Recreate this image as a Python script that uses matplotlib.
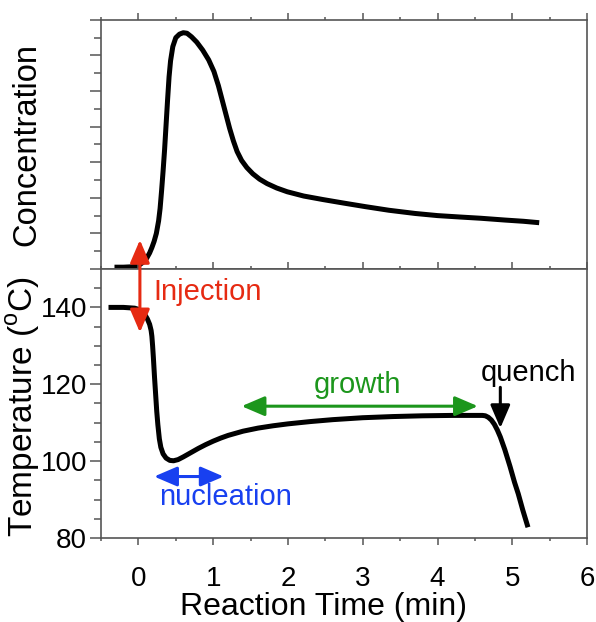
import matplotlib
matplotlib.use('Agg')
import matplotlib.pyplot as plt
from matplotlib.patches import ConnectionPatch

plt.rcParams['font.family'] = ['Liberation Sans', 'DejaVu Sans']
plt.rcParams['mathtext.fontset'] = 'custom'
plt.rcParams['mathtext.rm'] = 'Liberation Sans'

# concentration trace (arbitrary units)
t_conc = [-0.32, -0.2, -0.1, -0.03, 0.02, 0.07, 0.11, 0.15, 0.18, 0.21, 0.24, 0.27,
          0.29, 0.31, 0.33, 0.35, 0.37, 0.39, 0.41, 0.43, 0.46, 0.50, 0.55, 0.60,
          0.65, 0.71, 0.78, 0.86, 0.94, 1.01, 1.07, 1.12, 1.17, 1.22, 1.27, 1.32,
          1.38, 1.45, 1.53, 1.62, 1.72, 1.85, 1.99, 2.21, 2.47, 2.75, 3.04, 3.35,
          3.7, 4.0, 4.3, 4.58, 4.9, 5.15, 5.36]
conc = [0.1, 0.1, 0.12, 0.17, 0.25, 0.4, 0.6, 0.9, 1.2, 1.55, 2.0, 2.7,
        3.4, 4.4, 5.5, 6.7, 8.1, 9.5, 10.8, 11.7, 12.5, 13.0, 13.2, 13.28,
        13.25, 13.05, 12.75, 12.3, 11.75, 11.1, 10.3, 9.5, 8.7, 7.9, 7.2, 6.6,
        6.1, 5.7, 5.35, 5.05, 4.8, 4.55, 4.34, 4.1, 3.9, 3.7, 3.5, 3.3,
        3.12, 3.0, 2.92, 2.85, 2.75, 2.68, 2.6]

# reaction temperature (deg C)
t_temp = [-0.4, -0.2, -0.05, 0.0, 0.05, 0.09, 0.12, 0.15, 0.17, 0.18, 0.19, 0.20,
          0.215, 0.23, 0.245, 0.26, 0.28, 0.30, 0.33, 0.37, 0.42, 0.47, 0.53, 0.6,
          0.7, 0.8, 0.9, 1.0, 1.1, 1.2, 1.4, 1.6, 1.8, 2.0, 2.3, 2.6, 3.0, 3.4,
          3.8, 4.2, 4.6, 4.64, 4.68, 4.72, 4.76, 4.8, 4.84, 4.9, 4.97, 5.03, 5.08,
          5.14, 5.21]
temp = [140, 140, 139.8, 139.5, 138.9, 138.0, 137.0, 135.6, 134.0, 132.5, 130.0, 127.0,
        122.0, 117.5, 113.0, 109.5, 105.8, 103.6, 101.9, 100.8, 100.2, 100.1, 100.4, 101.1,
        102.2, 103.3, 104.3, 105.2, 106.0, 106.7, 107.8, 108.6, 109.2, 109.7, 110.3, 110.8, 111.3, 111.6,
        111.8, 111.9, 111.9, 111.8, 111.4, 110.7, 109.6, 108.1, 106.3, 103.0, 98.6, 94.5, 91.5,
        87.3, 82.8]

x_ticks = [0, 1, 2, 3, 4, 5, 6]
temp_ticks = [80, 100, 120, 140]

red = '#e62a12'
green = '#1c961c'
blue = '#1840f0'
spine_col = '#555555'

fig, (ax1, ax2) = plt.subplots(2, 1, sharex=True, figsize=(5.96, 6.22), dpi=100,
                               gridspec_kw={'height_ratios': [249, 269]})
fig.subplots_adjust(left=0.1695, right=0.985, top=0.968, bottom=0.135, hspace=0)

ax1.plot(t_conc, conc, color='black', lw=3.6, solid_capstyle='butt', solid_joinstyle='round')
ax2.plot(t_temp, temp, color='black', lw=3.6, solid_capstyle='butt', solid_joinstyle='round')

ax1.set_xlim(-0.4, 6)
ax1.set_ylim(0, 14)
ax2.set_ylim(80, 150)

for ax in (ax1, ax2):
    for s in ax.spines.values():
        s.set_color(spine_col)
        s.set_linewidth(1.2)

# top panel ticks: no labels
ax1.set_yticks(range(0, 15, 2))
ax1.set_yticks(range(1, 15, 2), minor=True)
ax1.tick_params(axis='y', which='major', direction='out', length=8, width=1.1,
                color=spine_col, labelleft=False, right=False)
ax1.tick_params(axis='y', which='minor', direction='out', length=5, width=1.1,
                color=spine_col, right=False)
ax1.tick_params(axis='x', which='both', direction='out', top=True, bottom=False,
                labelbottom=False, labeltop=False, color=spine_col, width=1.1)
ax1.tick_params(axis='x', which='major', length=5)
ax1.tick_params(axis='x', which='minor', length=2.5)

ax2.set_xticks(x_ticks)
ax2.set_xticks([v + 0.5 for v in range(-1, 6)], minor=True)
ax2.set_yticks(temp_ticks)
ax2.set_yticks(range(85, 150, 5), minor=True)
ax2.tick_params(axis='x', which='both', direction='out', top=True, bottom=True,
                color=spine_col, width=1.1, labelsize=20, pad=15)
ax2.tick_params(axis='x', which='major', length=5)
ax2.tick_params(axis='x', which='minor', length=2.5)
ax2.tick_params(axis='y', which='major', direction='out', length=8, width=1.1,
                color=spine_col, labelsize=20, pad=2, right=False)
ax2.tick_params(axis='y', which='minor', direction='out', length=5, width=1.1,
                color=spine_col, right=False)
ax2.set_yticklabels(['80', '100', '120', '140'])

ax1.set_ylabel('Concentration', fontsize=23.5)
ax1.yaxis.set_label_coords(-0.121, 0.5)
ax2.set_ylabel('Temperature ($^{\\mathrm{o}}$C)', fontsize=24)
ax2.yaxis.set_label_coords(-0.121, 0.49)
ax2.set_xlabel('Reaction Time (min)', fontsize=23, va='center')
ax2.xaxis.set_label_coords(0.457, -0.258)

# injection: arrow spans both panels
inj = ConnectionPatch(xyA=(0.02, 1.63), coordsA=ax1.transData,
                      xyB=(0.02, 133.5), coordsB=ax2.transData,
                      arrowstyle='<|-|>,head_length=0.7,head_width=0.3',
                      mutation_scale=20, color=red, lw=2.2, zorder=5)
fig.add_artist(inj)
ax2.text(0.2, 144, 'Injection', color=red, fontsize=21, va='center', ha='left')

# nucleation
ax2.annotate('', xy=(0.21, 96), xytext=(1.14, 96),
             arrowprops=dict(arrowstyle='<|-|>,head_length=0.7,head_width=0.3',
                             mutation_scale=20, color=blue, lw=2.2,
                             shrinkA=0, shrinkB=0))
ax2.text(0.28, 90.6, 'nucleation', color=blue, fontsize=21, va='center', ha='left')

# growth
ax2.annotate('', xy=(1.38, 114.3), xytext=(4.54, 114.3),
             arrowprops=dict(arrowstyle='<|-|>,head_length=0.7,head_width=0.3',
                             mutation_scale=20, color=green, lw=2.2,
                             shrinkA=0, shrinkB=0))
ax2.text(2.93, 119.7, 'growth', color=green, fontsize=21, va='center', ha='center')

# quench
ax2.annotate('', xy=(4.84, 108.6), xytext=(4.84, 119.2),
             arrowprops=dict(arrowstyle='-|>,head_length=0.7,head_width=0.3',
                             mutation_scale=20, color='black', lw=2.2,
                             shrinkA=0, shrinkB=0))
ax2.text(5.22, 123, 'quench', color='black', fontsize=21, va='center', ha='center')

fig.savefig('out.png', dpi=100)
